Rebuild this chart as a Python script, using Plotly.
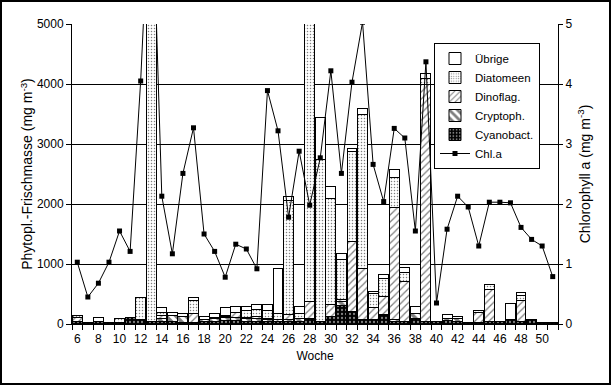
import plotly.graph_objects as go

weeks = list(range(6, 52))
cyanobact = [50, 30, 50, 30, 20, 110, 75, 45, 50, 40, 30, 30, 50, 50, 60, 55, 50, 50, 40, 50,
             40, 50, 90, 50, 130, 310, 210, 80, 80, 140, 40, 45, 90, 40, 45, 60, 45, 20, 30, 40,
             35, 80, 40, 75, 30, 30]
cryptoph = [0, 0, 0, 0, 0, 0, 0, 0, 40, 100, 100, 0, 25, 50, 50, 50, 40, 40, 30, 0,
            30, 40, 0, 0, 0, 70, 0, 0, 0, 20, 40, 0, 80, 0, 0, 40, 40, 0, 0, 0,
            0, 0, 0, 0, 0, 0]
dinoflag = [55, 0, 0, 0, 0, 0, 0, 0, 50, 0, 0, 140, 0, 10, 10, 80, 20, 30, 30, 20,
            90, 10, 290, 0, 190, 30, 1170, 840, 190, 295, 1870, 660, 0, 3960, 0, 0, 0, 0, 160, 540,
            0, 0, 360, 0, 0, 0]
diatomeen = [45, 0, 0, 0, 75, 0, 370, 6500, 60, 10, 0, 220, 0, 0, 15, 0, 110, 120, 120, 100,
             1900, 80, 5500, 2700, 1765, 670, 1500, 2580, 240, 300, 500, 150, 0, 90, 0, 0, 0, 0, 30, 80,
             0, 0, 70, 0, 0, 0]
uebrige = [0, 0, 60, 0, 0, 0, 0, 0, 75, 50, 45, 55, 55, 65, 140, 110, 80, 90, 110, 760,
           70, 110, 0, 690, 200, 90, 50, 100, 40, 75, 130, 80, 130, 80, 0, 55, 45, 0, 0, 0,
           0, 270, 50, 0, 0, 0]
chl_a = [1.03, 0.45, 0.68, 1.03, 1.55, 1.21, 4.05, 7.8, 2.13, 1.17, 2.51, 3.27, 1.50, 1.21, 0.78,
         1.33, 1.25, 0.92, 3.89, 3.22, 1.78, 2.88, 1.98, 2.77, 4.22, 2.51, 4.03, 5.03, 2.66, 2.04,
         3.26, 3.10, 1.55, 4.37, 0.35, 1.58, 2.13, 1.95, 1.30, 2.03, 2.03, 2.02, 1.61, 1.41, 1.30, 0.79]
x_ticks = list(range(6, 51, 2))
y_ticks = [0, 1000, 2000, 3000, 4000, 5000]
y2_ticks = [0, 1, 2, 3, 4, 5]

FONT = "Liberation Sans, Arial, sans-serif"
W, H = 611, 385
ML, MR, MT, MB = 72, 53, 24, 61
PW, PH = W - ML - MR, H - MT - MB

fig = go.Figure()

series = [
    ("Cyanobact.", cyanobact, dict(color="black", pattern=dict(shape=".", fgcolor="white", size=4, solidity=0.25, fillmode="overlay")), 5),
    ("Cryptoph.", cryptoph, dict(color="white", pattern=dict(shape="\\", fgcolor="black", size=7, solidity=0.5, fillmode="overlay")), 4),
    ("Dinoflag.", dinoflag, dict(color="white", pattern=dict(shape="/", fgcolor="black", size=5, solidity=0.25, fillmode="overlay")), 3),
    ("Diatomeen", diatomeen, dict(color="white", pattern=dict(shape=".", fgcolor="black", size=3, solidity=0.2, fillmode="overlay")), 2),
    ("Übrige", uebrige, dict(color="white"), 1),
]
for name, vals, mk, rank in series:
    fig.add_trace(go.Bar(
        x=weeks, y=vals, name=name, legendrank=rank,
        marker=dict(line=dict(color="black", width=1), **mk),
    ))

fig.add_trace(go.Scatter(
    x=weeks, y=chl_a, name="Chl.a", yaxis="y2", legendrank=6,
    mode="lines+markers",
    line=dict(color="black", width=1),
    marker=dict(symbol="square", size=5, color="black"),
))

fig.update_layout(
    width=W, height=H,
    margin=dict(l=ML, r=MR, t=MT, b=MB),
    paper_bgcolor="white", plot_bgcolor="white",
    barmode="stack", bargap=0.06,
    font=dict(family=FONT, size=12, color="black"),
    showlegend=True,
    legend=dict(
        x=(540 - ML) / PW, y=(H - MB - 43) / PH, xanchor="right", yanchor="top",
        traceorder="normal",
        bgcolor="white", bordercolor="black", borderwidth=1,
        font=dict(family=FONT, size=11.5, color="black"),
        tracegroupgap=0, itemwidth=30,
    ),
    xaxis=dict(
        range=[5.5, 51.5], tickmode="array", tickvals=x_ticks,
        ticks="", showgrid=False, zeroline=False,
        showline=True, linecolor="black", linewidth=1,
        minor=dict(ticks="outside", ticklen=5, tickcolor="black", tick0=5.5, dtick=1, showgrid=False),
        title=dict(text="Woche", standoff=6, font=dict(size=12)),
        ticklabelstandoff=4,
    ),
    yaxis=dict(
        range=[0, 5000], tickvals=y_ticks,
        ticks="outside", ticklen=5, tickcolor="black",
        showgrid=True, gridcolor="black", gridwidth=1,
        zeroline=False, showline=True, linecolor="black", linewidth=1,
        title=dict(text="Phytopl.-Frischmasse (mg m<sup>-3</sup>)", standoff=0),
    ),
    yaxis2=dict(
        range=[0, 5], tickvals=y2_ticks, overlaying="y", side="right",
        ticks="outside", ticklen=4, tickcolor="black",
        showgrid=False, zeroline=False, showline=True, linecolor="black", linewidth=1,
        title=dict(text="Chlorophyll a (mg m<sup>-3</sup>)", standoff=8),
    ),
    shapes=[dict(
        type="rect", xref="paper", yref="paper",
        x0=(1 - ML) / PW, x1=(W - 1 - ML) / PW,
        y0=-(MB - 1) / PH, y1=(PH + MT - 1) / PH,
        line=dict(color="black", width=2), fillcolor="rgba(0,0,0,0)", layer="above",
    )],
)

fig.write_html("out.html", config={"displayModeBar": False},
               post_script="document.body.style.margin='0px';document.body.style.padding='0px';")
